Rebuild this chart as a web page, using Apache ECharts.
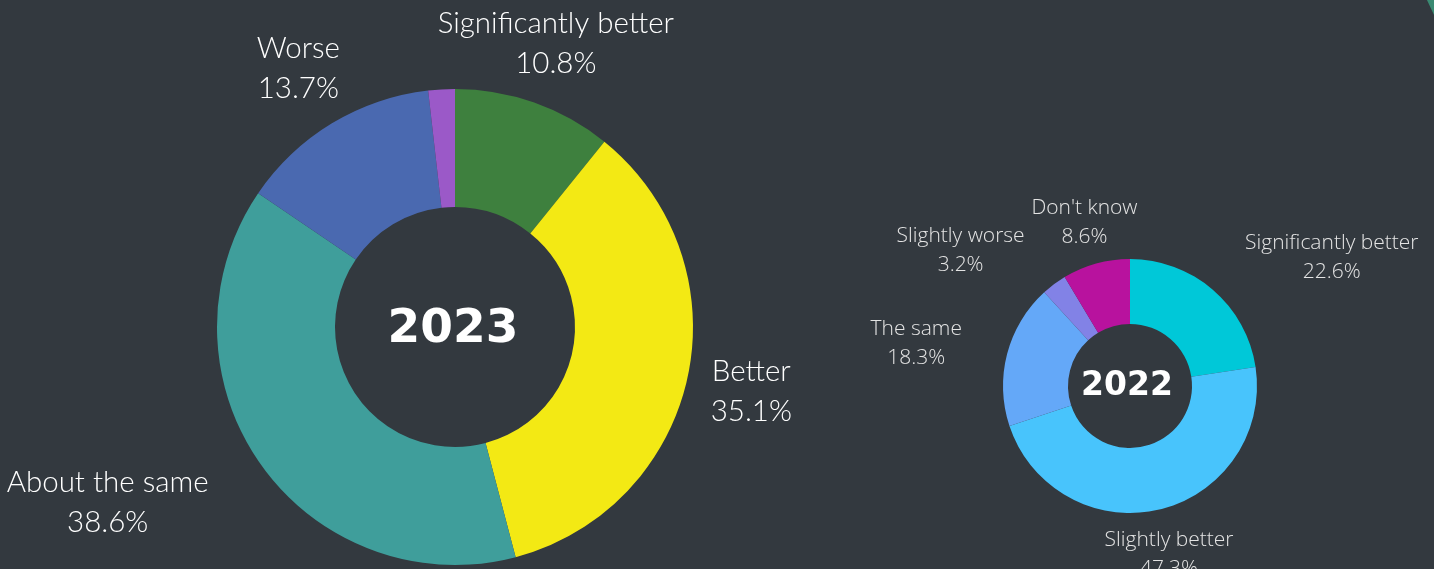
<!DOCTYPE html>
<html>
<head>
<meta charset="utf-8">
<script src="https://cdn.jsdelivr.net/npm/echarts@6/dist/echarts.min.js"></script>
<style>
  html, body { margin: 0; padding: 0; background: #33393f; }
  #chart { width: 1434px; height: 569px; }
</style>
</head>
<body>
<div id="chart"></div>
<script>
  "use strict";

  // --- data ---
  const cats2023 = ["Significantly better", "Better", "About the same", "Worse", "Other"];
  const vals2023 = [10.8, 35.1, 38.6, 13.7, 1.8];
  const showLabel2023 = [true, true, true, true, false];

  const cats2022 = ["Significantly better", "Slightly better", "The same", "Slightly worse", "Don't know"];
  const vals2022 = [22.6, 47.3, 18.3, 3.2, 8.6];

  // --- styles ---
  const colors2023 = ["#3e803e", "#f3e914", "#3f9e9b", "#4a69b0", "#9b59c8"];
  const colors2022 = ["#00c8d8", "#48c4fc", "#64a8f8", "#8282e6", "#b8129e"];
  // 标签微调（相对于径向位置的偏移）
  const offsets2023 = [[0, 2], [0, 1], [-100, 0], [0, 1], [0, 0]];
  const offsets2022 = [[76, 18], [-6, -19], [-27, 6], [-54, 19], [6, 23]];

  const center2023 = [455, 327];
  const center2022 = [1130, 386];

  const fmt = p => p.name + "\n" + p.value.toFixed(1) + "%";

  function ring(center, radius, cats, vals, colors) {
    return {
      type: "pie",
      center: center,
      radius: radius,
      silent: true,
      label: { show: false },
      labelLine: { show: false },
      emphasis: { disabled: true },
      data: cats.map((c, i) => ({ name: c, value: vals[i], itemStyle: { color: colors[i] } }))
    };
  }

  // 透明的大饼图，只用来把标签放在固定半径上
  function labelRing(center, dist, cats, vals, offsets, shown, labelStyle) {
    return {
      type: "pie",
      center: center,
      radius: [0, dist * 2],
      silent: true,
      z: 1,
      itemStyle: { color: "rgba(0,0,0,0)" },
      emphasis: { disabled: true },
      labelLine: { show: false },
      data: cats.map((c, i) => ({
        name: c,
        value: vals[i],
        label: Object.assign({
          show: shown ? shown[i] : true,
          position: "inside",
          formatter: fmt,
          offset: offsets[i]
        }, labelStyle)
      }))
    };
  }

  const chart = echarts.init(document.getElementById("chart"), null, { renderer: "canvas" });

  chart.setOption({
    backgroundColor: "#33393f",
    animation: false,
    series: [
      ring(center2023, [120, 238], cats2023, vals2023, colors2023),
      labelRing(center2023, 300, cats2023, vals2023, offsets2023, showLabel2023, {
        color: "#ffffff", fontFamily: "Lato", fontWeight: 300, fontSize: 29.5, lineHeight: 40, align: "center"
      }),
      ring(center2022, [62, 127], cats2022, vals2022, colors2022),
      labelRing(center2022, 190, cats2022, vals2022, offsets2022, null, {
        color: "#e4e4e4", fontFamily: "Open Sans", fontWeight: 300, fontSize: 21, lineHeight: 29, align: "center"
      })
    ],
    graphic: [
      {
        type: "text", x: center2023[0] - 2, y: center2023[1] + 3, z: 10,
        style: {
          text: "2023", fill: "#ffffff", font: "bold 47px 'DejaVu Sans'",
          align: "center", verticalAlign: "middle"
        }
      },
      {
        type: "text", x: center2022[0] - 3, y: center2022[1], z: 10,
        style: {
          text: "2022", fill: "#ffffff", font: "bold 33px 'DejaVu Sans'",
          align: "center", verticalAlign: "middle"
        }
      },
      // 右上角的装饰边
      {
        type: "polygon", z: 10,
        shape: { points: [[1427, 0], [1434, 0], [1434, 15]] },
        style: { fill: "#3a8a72" }
      }
    ]
  });

  window.addEventListener("resize", () => { chart.resize(); });
</script>
</body>
</html>
